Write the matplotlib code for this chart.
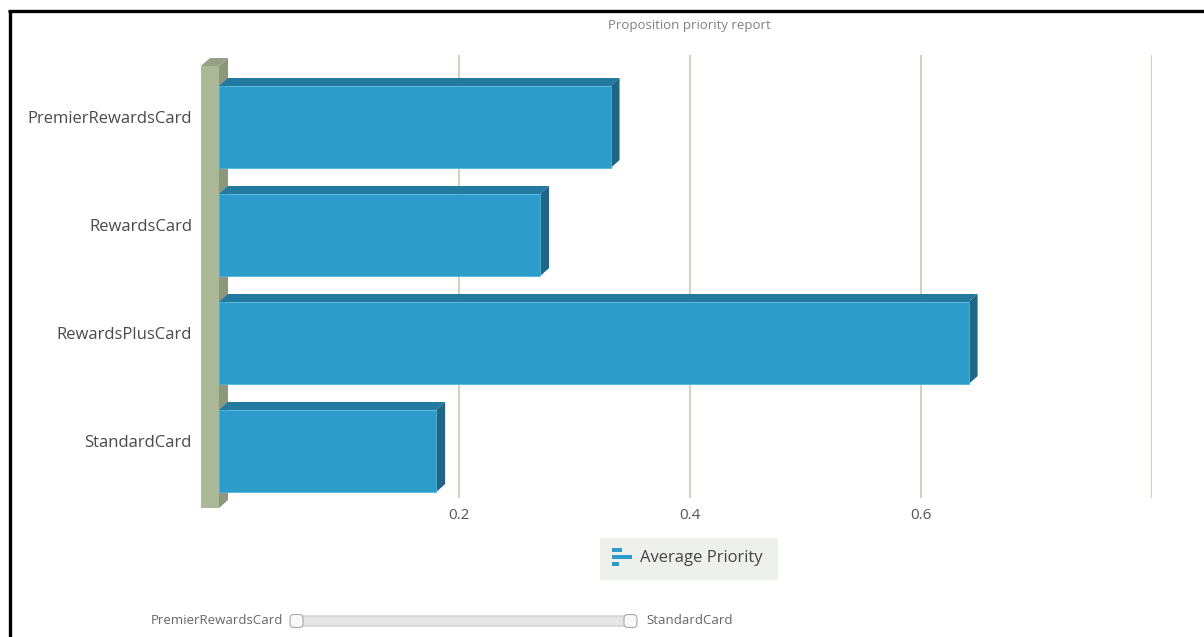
import matplotlib.pyplot as plt
from matplotlib.patches import Polygon, Rectangle, FancyBboxPatch

plt.rcParams['font.family'] = ['Open Sans', 'DejaVu Sans']

# data
categories = ['PremierRewardsCard', 'RewardsCard', 'RewardsPlusCard', 'StandardCard']
avg_priority = [0.339, 0.278, 0.649, 0.188]
x_ticks = [0.2, 0.4, 0.6, 0.8]
x_tick_labels = ['0.2', '0.4', '0.6', '']
title = 'Proposition priority report'
series_name = 'Average Priority'

W, H = 1204, 637
fig = plt.figure(figsize=(W / 100, H / 100), dpi=100)

# plot area (pixel layout of the original)
ax_l, ax_r, ax_t, ax_b = 228, 1152, 55, 498
ax = fig.add_axes([ax_l / W, 1 - ax_b / H, (ax_r - ax_l) / W, (ax_b - ax_t) / H])
ax.set_xlim(0, 0.8)
ax.set_ylim(3.509, -0.593)

# pixel -> data scale for the 3d depth offset
px_x = 0.8 / (ax_r - ax_l)
px_y = (3.509 + 0.593) / (ax_b - ax_t)
dx, dy = 9 * px_x, 8 * px_y
h = 0.76

front_c, top_c, side_c = '#2e9ccb', '#24799f', '#1e6586'

for i, v in enumerate(avg_priority):
    y0, y1 = i - h / 2, i + h / 2
    top = Polygon([(-dx, y0 + dy), (0, y0), (v, y0), (v - dx, y0 + dy)],
                  closed=True, fc=top_c, ec='none', zorder=3, clip_on=False)
    side = Polygon([(v - dx, y0 + dy), (v, y0), (v, y1), (v - dx, y1 + dy)],
                   closed=True, fc=side_c, ec='none', zorder=3, clip_on=False)
    front = Rectangle((-dx, y0 + dy), v, h, fc=front_c, ec='#4fb3dc', lw=0.6,
                      zorder=4, clip_on=False)
    ax.add_patch(top)
    ax.add_patch(side)
    ax.add_patch(front)

# left 3d wall
wx0, wx1 = -dx - 18 * px_x, -dx
wy_top, wy_bot = -0.593 + 3 * px_y, 3.509 + 10 * px_y
wall_top = Polygon([(wx0, wy_top + dy), (wx0 + dx, wy_top), (0, wy_top), (wx1, wy_top + dy)],
                   closed=True, fc='#95a085', ec='none', zorder=5, clip_on=False)
wall_side = Polygon([(wx1, wy_top + dy), (0, wy_top), (0, wy_bot - dy), (wx1, wy_bot)],
                    closed=True, fc='#8c987e', ec='none', zorder=2, clip_on=False)
wall_front = Rectangle((wx0, wy_top + dy), wx1 - wx0, wy_bot - wy_top - dy,
                       fc='#abb898', ec='none', zorder=5, clip_on=False)
for p in (wall_top, wall_side, wall_front):
    ax.add_patch(p)

ax.set_xticks(x_ticks)
ax.set_xticklabels(x_tick_labels, fontsize=11, color='#555555')
ax.set_yticks(range(len(categories)))
ax.set_yticklabels(categories, fontsize=12, color='#4a4a4a')
ax.tick_params(axis='y', length=0, pad=26)
ax.tick_params(axis='x', length=0, pad=7)
for lab in ax.get_yticklabels():
    lab.set_verticalalignment('center')
ax.grid(axis='x', color='#cdd4c0', lw=1.5, zorder=0)
ax.grid(axis='y', visible=False)
ax.set_axisbelow(True)
for s in ax.spines.values():
    s.set_visible(False)
ax.set_facecolor('none')

# overlay in pixel coordinates for frame, title, legend, slider
ov = fig.add_axes([0, 0, 1, 1], zorder=-1)
ov.set_xlim(0, W)
ov.set_ylim(H, 0)
ov.axis('off')

ov.plot([8, W], [11, 11], color='black', lw=2.4, solid_capstyle='butt')
ov.plot([9.5, 9.5], [10, H], color='black', lw=2.4, solid_capstyle='butt')

ov.text(689, 26, title, ha='center', va='center', fontsize=9.5, color='#808080')

# legend
ov.add_patch(Rectangle((600, 538), 178, 42, fc='#eef0eb', ec='none'))
for yy, ww in [(550, 10), (557, 20), (564, 7)]:
    ov.add_patch(Rectangle((612, yy - 2), ww, 4, fc=front_c, ec='none'))
ov.text(640, 558, series_name, ha='left', va='center', fontsize=12, color='#444444')

# range slider
ov.add_patch(FancyBboxPatch((296, 616), 335, 10, boxstyle='round,pad=0,rounding_size=3',
                            fc='#e6e6e6', ec='#c8c8c8', lw=0.8))
for hx in (290, 624):
    ov.add_patch(FancyBboxPatch((hx, 614.5), 13, 13, boxstyle='round,pad=0,rounding_size=4',
                                fc='#f8f8f8', ec='#a8a8a8', lw=0.8))
ov.text(283, 621, categories[0], ha='right', va='center', fontsize=9.5, color='#666666')
ov.text(646, 621, categories[-1], ha='left', va='center', fontsize=9.5, color='#666666')

fig.savefig('out.png', dpi=100)
